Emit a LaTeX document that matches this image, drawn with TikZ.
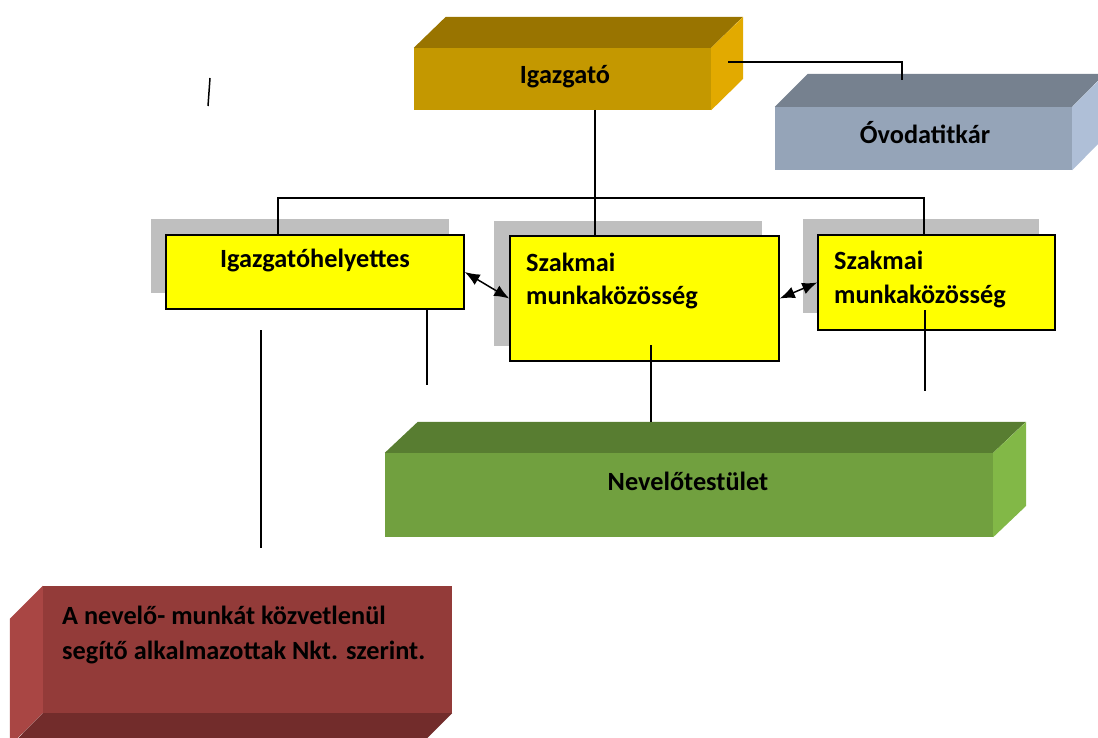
\documentclass[tikz,border=0pt]{standalone}
\usepackage{fontspec}
\setmainfont{Carlito}
\usetikzlibrary{arrows.meta,calc}
\definecolor{goldF}{HTML}{C49800}
\definecolor{goldT}{HTML}{997400}
\definecolor{goldR}{HTML}{E2AA00}
\definecolor{blueF}{HTML}{95A4B8}
\definecolor{blueT}{HTML}{76818F}
\definecolor{blueR}{HTML}{AFBFD7}
\definecolor{greenF}{HTML}{71A03F}
\definecolor{greenT}{HTML}{587D31}
\definecolor{greenR}{HTML}{82B847}
\definecolor{redF}{HTML}{933B39}
\definecolor{redL}{HTML}{A94644}
\definecolor{redB}{HTML}{722C2B}
\definecolor{shade}{HTML}{BFBFBF}
\definecolor{ylw}{RGB}{255,255,0}
\begin{document}
\begin{tikzpicture}[x=1pt,y=-1pt,
  txt/.style={font=\fontsize{26.3}{36}\selectfont\bfseries, inner sep=0pt},
  face/.style={draw=none, inner sep=0pt, rectangle},
  ybox/.style={draw=black, line width=1.5pt, fill=ylw, inner sep=0pt, rectangle},
  gbox/.style={fill=shade, draw=none},
  conn/.style={line width=1.5pt, black},
  arr/.style={line width=1.5pt, black, {Latex[length=15pt,width=12pt]}-{Latex[length=15pt,width=12pt]}}
]
\useasboundingbox (0,0) rectangle (1098,738);

% ---------- Igazgató (3D box)
\node[face, fill=goldF, minimum width=297pt, minimum height=62pt] (ig) at (562.5,79) {};
\fill[goldT] (ig.north west) -- ++(32,-31) -- ++(297,0) -- (ig.north east) -- cycle;
\fill[goldR] (ig.north east) -- ++(32,-31) -- ++(0,62) -- (ig.south east) -- cycle;
\node[txt] (igt) at (565,77) {Igazgató};

% ---------- Óvodatitkár (3D box)
\node[face, fill=blueF, minimum width=297pt, minimum height=63pt] (ov) at (923.5,138.5) {};
\fill[blueT] (ov.north west) -- ++(33,-33) -- ++(297,0) -- (ov.north east) -- cycle;
\fill[blueR] (ov.north east) -- ++(33,-33) -- ++(0,63) -- (ov.south east) -- cycle;
\node[txt] (ovt) at (925,133) {Óvodatitkár};

% ---------- Nevelőtestület (3D box)
\node[face, fill=greenF, minimum width=608pt, minimum height=84pt] (nt) at (689,495) {};
\fill[greenT] (nt.north west) -- ++(33,-31) -- ++(608,0) -- (nt.north east) -- cycle;
\fill[greenR] (nt.north east) -- ++(33,-31) -- ++(0,84) -- (nt.south east) -- cycle;
\node[txt] (ntt) at (688,481) {Nevelőtestület};

% ---------- red box
\node[face, fill=redF, minimum width=409pt, minimum height=127pt] (rd) at (247.5,649.5) {};
\fill[redL] (rd.north west) -- ++(-33,33) -- ++(0,127) -- (rd.south west) -- cycle;
\fill[redB] (rd.south west) -- (rd.south east) -- ++(-33,33) -- ++(-409,0) -- cycle;
\node[txt, anchor=west] (rd1) at (62,615) {A nevelő- munkát közvetlenül};
\node[txt, anchor=west] (rd2) at (62,652) {segítő alkalmazottak Nkt. szerint.};

% ---------- yellow boxes with grey shadows
\fill[gbox] (151,219) rectangle (449,293);
\node[ybox, minimum width=298pt, minimum height=74pt] (ih) at (315,272) {};
\node[txt] (iht) at (315,261) {Igazgatóhelyettes};

\fill[gbox] (494,221) rectangle (762,346);
\node[ybox, minimum width=269pt, minimum height=125pt] (s1) at (644.5,298.5) {};
\node[txt, anchor=west] (s1a) at (526,262) {Szakmai};
\node[txt, anchor=west] (s1b) at (526,298) {munkaközösség};

\fill[gbox] (803,219) rectangle (1039,313);
\node[ybox, minimum width=237pt, minimum height=95pt] (s2) at (936.5,282.5) {};
\node[txt, anchor=west] (s2a) at (834,260) {Szakmai};
\node[txt, anchor=west] (s2b) at (834,297) {munkaközösség};

% ---------- connectors
\coordinate (igR) at (728,62);
\coordinate (ovT) at (902,80);
\draw[conn] (igR) -| (ovT);

\coordinate (igB) at (595,110);
\draw[conn] (igB) -- (igB |- s1.north);

\coordinate (c1) at (278,198);
\coordinate (c2) at (924,198);
\draw[conn] (c1 |- ih.north) -- (c1) -- (c2) -- (c2 |- s2.north);

\coordinate (ihB) at (427,309);
\coordinate (ihE) at (427,385);
\draw[conn] (ihB) -- (ihE);

\coordinate (f1) at (261,330);
\coordinate (f2) at (261,548);
\draw[conn] (f1) -- (f2);

\coordinate (g1) at (210,78);
\coordinate (g2) at (208,106);
\draw[conn] (g1) -- (g2);

\coordinate (s1in) at (651,345);
\coordinate (ntT) at (651,422);
\draw[conn] (s1in) -- (ntT);

\coordinate (s2in) at (925,310);
\coordinate (s2E) at (925,391);
\draw[conn] (s2in) -- (s2E);

\draw[arr] (ih.east) -- (s1.west);
\draw[arr] (s1.east) -- (s2.west);
\end{tikzpicture}
\end{document}
